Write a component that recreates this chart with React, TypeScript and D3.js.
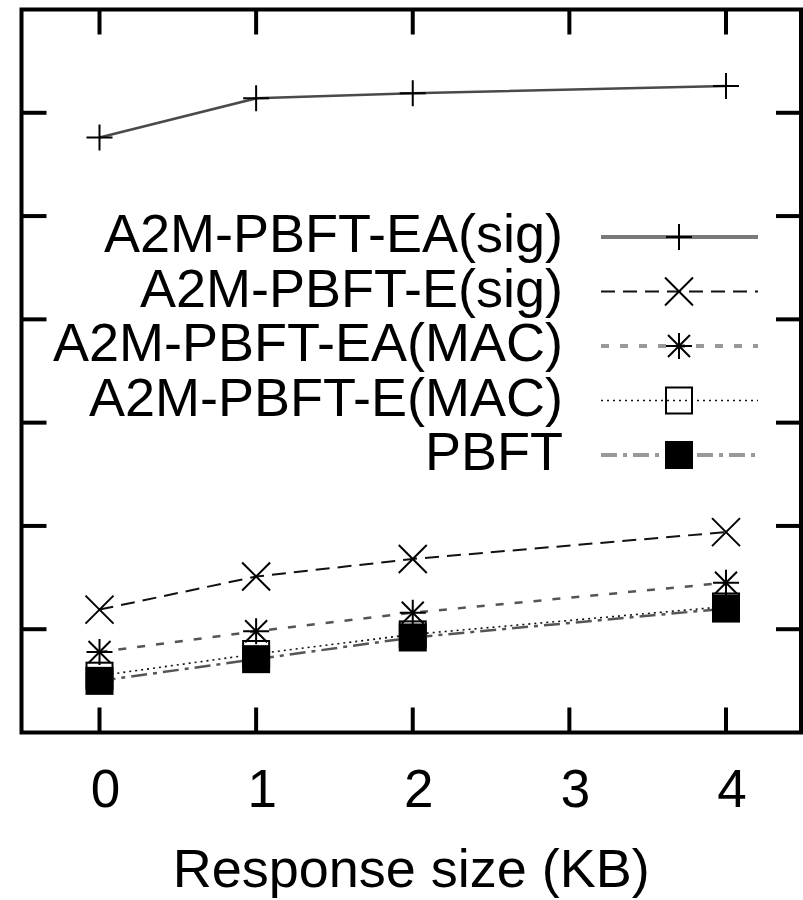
import React, { useEffect, useRef } from "react";
import * as d3 from "d3";

// Response sizes on the x axis (KB)
const sizes = [0, 1, 2, 4];
const xTicks = [0, 1, 2, 3, 4];
// y axis has no readable labels, values are in tick units
const yTicks = [0, 1, 2, 3, 4, 5, 6, 7];

const eaSig = [5.76, 6.14, 6.19, 6.26];
const eSig = [1.19, 1.51, 1.68, 1.94];
const eaMac = [0.78, 0.98, 1.16, 1.45];
const eMac = [0.55, 0.76, 0.95, 1.22];
const pbft = [0.5, 0.71, 0.92, 1.2];

const seriesNames = [
  "A2M-PBFT-EA(sig)",
  "A2M-PBFT-E(sig)",
  "A2M-PBFT-EA(MAC)",
  "A2M-PBFT-E(MAC)",
  "PBFT",
];

const FONT = "'Liberation Sans', Arial, Helvetica, sans-serif";

export default function App() {
  const svgRef = useRef<SVGSVGElement>(null);

  useEffect(() => {
    const W = 803;
    const H = 900;
    const left = 21.5, right = 801, top = 9.5, bottom = 732.5;

    const x = d3.scaleLinear().domain([0, 4]).range([99.5, 726]);
    const y = d3.scaleLinear().domain([0, 7]).range([bottom, top]);

    const svg = d3.select(svgRef.current);
    svg.selectAll("*").remove();
    svg.attr("width", W).attr("height", H);
    svg.append("rect").attr("width", W).attr("height", H).attr("fill", "#fff");

    // legendColor: the key samples come out a bit lighter than the plotted lines
    const series = [
      { name: seriesNames[0], values: eaSig, color: "#4a4a4a", legendColor: "#7a7a7a", width: 2.5, dash: null, marker: "plus" },
      { name: seriesNames[1], values: eSig, color: "#111", legendColor: "#111", width: 2, dash: "14 8", marker: "cross" },
      { name: seriesNames[2], values: eaMac, color: "#555", legendColor: "#999", width: 2.5, dash: "8 11", marker: "star" },
      { name: seriesNames[3], values: eMac, color: "#111", legendColor: "#111", width: 1.6, dash: "2 4", marker: "box" },
      { name: seriesNames[4], values: pbft, color: "#555", legendColor: "#999", width: 2.5, dash: "16 6 4 6", marker: "fbox" },
    ];

    // draw marker at (cx, cy)
    const drawMarker = (g: any, type: string, cx: number, cy: number) => {
      const s = 13;
      const m = g.append("g").attr("transform", `translate(${cx},${cy})`);
      const st = (p: any) => p.attr("stroke", "#000").attr("stroke-width", 2).attr("fill", "none");
      if (type === "plus" || type === "star") {
        st(m.append("path").attr("d", `M${-s},0H${s}M0,${-s}V${s}`));
      }
      if (type === "cross" || type === "star") {
        const c = type === "star" ? 11 : 14;
        st(m.append("path").attr("d", `M${-c},${-c}L${c},${c}M${-c},${c}L${c},${-c}`));
      }
      if (type === "box") {
        st(m.append("rect").attr("x", -s).attr("y", -s).attr("width", 2 * s).attr("height", 2 * s));
      }
      if (type === "fbox") {
        m.append("rect").attr("x", -s - 1).attr("y", -s - 1).attr("width", 2 * s + 2).attr("height", 2 * s + 2).attr("fill", "#000");
      }
    };

    // Lines and points
    const line = d3.line<number>().x((d, i) => x(sizes[i])).y(d => y(d));
    series.forEach(s => {
      const p = svg.append("path")
        .datum(s.values)
        .attr("d", line)
        .attr("fill", "none")
        .attr("stroke", s.color)
        .attr("stroke-width", s.width);
      if (s.dash) p.attr("stroke-dasharray", s.dash);
      s.values.forEach((v, i) => drawMarker(svg, s.marker, x(sizes[i]), y(v)));
    });

    // Legend
    const legendY = d3.scaleLinear().domain([0, 4]).range([237, 455]);
    series.forEach((s, i) => {
      const ly = legendY(i);
      svg.append("text")
        .attr("x", 563)
        .attr("y", ly + 15)
        .attr("text-anchor", "end")
        .attr("font-family", FONT)
        .attr("font-size", 54)
        .attr("fill", "#000")
        .text(s.name);
      const p = svg.append("line")
        .attr("x1", 601).attr("x2", 758)
        .attr("y1", ly).attr("y2", ly)
        .attr("stroke", s.legendColor)
        .attr("stroke-width", s.width + (i === 0 || i === 2 || i === 4 ? 1.5 : 0));
      if (s.dash) p.attr("stroke-dasharray", s.dash);
      drawMarker(svg, s.marker, 679, ly);
    });

    // Ticks (mirrored on all sides, pointing inward)
    const ticks = svg.append("g").attr("stroke", "#000").attr("stroke-width", 4);
    xTicks.forEach(t => {
      ticks.append("line").attr("x1", x(t)).attr("x2", x(t)).attr("y1", bottom).attr("y2", bottom - 25);
      ticks.append("line").attr("x1", x(t)).attr("x2", x(t)).attr("y1", top).attr("y2", top + 25);
    });
    yTicks.slice(1, -1).forEach(t => {
      ticks.append("line").attr("x1", left).attr("x2", left + 25).attr("y1", y(t)).attr("y2", y(t));
      ticks.append("line").attr("x1", right).attr("x2", right - 25).attr("y1", y(t)).attr("y2", y(t));
    });

    // Frame
    svg.append("rect")
      .attr("x", left).attr("y", top)
      .attr("width", right - left).attr("height", bottom - top)
      .attr("fill", "none").attr("stroke", "#000").attr("stroke-width", 4);

    // X tick labels
    xTicks.forEach(t => {
      svg.append("text")
        .attr("x", x(t) + 6)
        .attr("y", 807)
        .attr("text-anchor", "middle")
        .attr("font-family", FONT)
        .attr("font-size", 53)
        .text(String(t));
    });

    // X axis title
    svg.append("text")
      .attr("x", (left + right) / 2)
      .attr("y", 887)
      .attr("text-anchor", "middle")
      .attr("font-family", FONT)
      .attr("font-size", 54)
      .text("Response size (KB)");
  }, []);

  return (
    <div style={{ position: "absolute", left: 0, top: 0 }}>
      <svg ref={svgRef} style={{ display: "block" }}></svg>
    </div>
  );
}
